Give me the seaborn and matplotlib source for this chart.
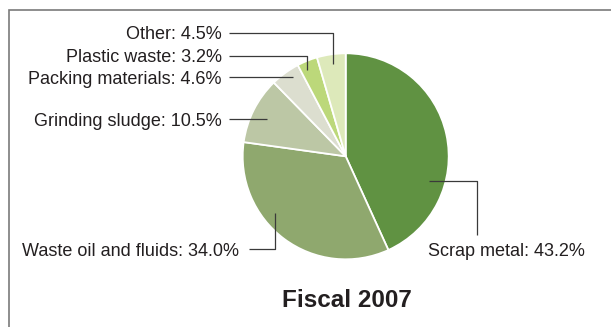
import numpy as np
import matplotlib
matplotlib.use('Agg')
import matplotlib.pyplot as plt
import matplotlib.patches as mpatches
import seaborn as sns

# Data
labels = ['Scrap metal', 'Waste oil and fluids', 'Grinding sludge',
          'Packing materials', 'Plastic waste', 'Other']
shares = [43.2, 34.0, 10.5, 4.6, 3.2, 4.5]
colors = ['#609242', '#8fa86e', '#bcc7a5', '#dcdecf', '#bcd87a', '#dde9ba']
title = 'Fiscal 2007'

sns.set_theme(style='white')
plt.rcParams['font.family'] = ['Liberation Sans', 'DejaVu Sans']

W, H = 611, 327
fig = plt.figure(figsize=(W / 100, H / 100), dpi=100)
ax = fig.add_axes([0, 0, 1, 1])

def fy(y):
    # pixel row -> data y
    return H - y

cx, cy, rad = 345.7, 156.3, 103
wedges, _ = ax.pie(shares, colors=sns.color_palette(colors), startangle=90, counterclock=False,
                   center=(cx, fy(cy)), radius=rad,
                   wedgeprops=dict(edgecolor='white', linewidth=1.3))
ax.set_xlim(0, W)
ax.set_ylim(0, H)
ax.set_aspect('equal')
ax.axis('off')

# frame around the panel
ax.add_patch(mpatches.Rectangle((8.5, fy(340)), 640, 340 - 9.5, fill=False,
                                edgecolor='#7a7a7a', linewidth=1.2))

# label layout: text anchor, line start, leader style, position inside wedge
text_pos = [(428, 256.5, 'left'), (239.5, 256.5, 'right'), (222, 125.6, 'right'),
            (222, 83.6, 'right'), (222, 62.3, 'right'), (222, 39.0, 'right')]
line_start = [(476.7, 235.3), (249.3, 249.3), (229, 119.3),
              (229, 77.3), (229, 56.0), (229, 32.7)]
leader = ['vh', 'hv', 'h', 'h', 'hv', 'hv']
inside = [(0.317, 0.845), (0.381, 0.874), (0.535, 0.845),
          (0.36, 0.924), (0.69, 0.913), (0.475, 0.906)]

for w, lab, val, (tx, ty, ha), (sx, sy), kind, (f, rf) in zip(
        wedges, labels, shares, text_pos, line_start, leader, inside):
    ang = np.deg2rad(w.theta1 + f * (w.theta2 - w.theta1))
    x0, y0 = w.center
    px = x0 + rf * w.r * np.cos(ang)
    py = y0 + rf * w.r * np.sin(ang)
    if kind == 'h':
        xs, ys = [sx, px], [fy(sy), fy(sy)]
    elif kind == 'hv':
        xs, ys = [sx, px, px], [fy(sy), fy(sy), py]
    else:
        xs, ys = [px, sx, sx], [py, py, fy(sy)]
    ax.plot(xs, ys, color='#3a3a3a', linewidth=0.9, solid_capstyle='butt')
    ax.text(tx, fy(ty), f'{lab}: {val:.1f}%', ha=ha, va='baseline',
            fontsize=13, color='#231f20')

ax.text(346.5, fy(307.3), title, ha='center', va='baseline', fontsize=17.5,
        fontweight='bold', color='#231f20')

fig.savefig('out.png', dpi=100)
